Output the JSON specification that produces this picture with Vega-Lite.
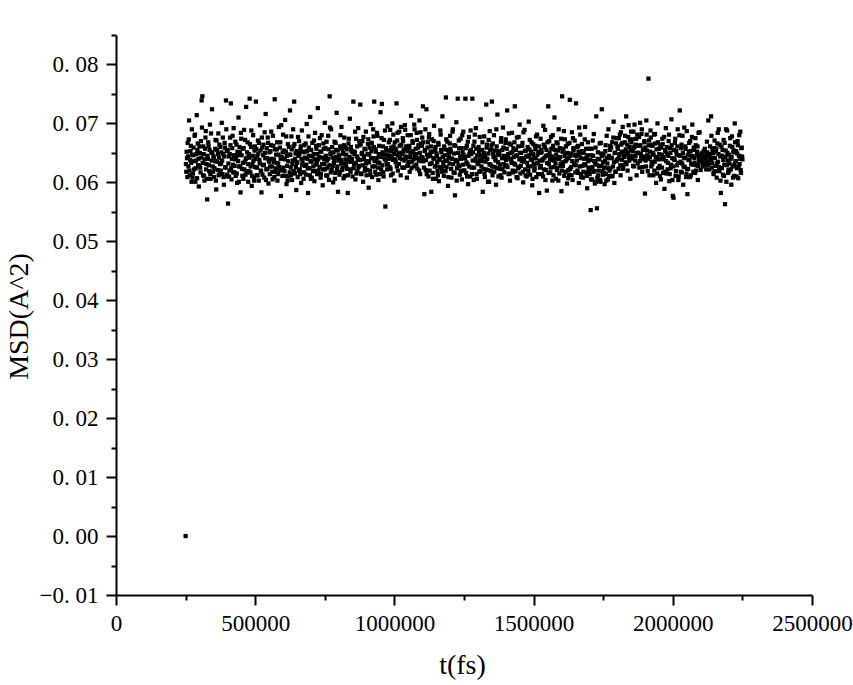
{
"$schema": "https://vega.github.io/schema/vega-lite/v6.json",
"width": 696, "height": 560,
"autosize": {"type": "none"},
"padding": {"left": 116, "top": 35, "right": 41, "bottom": 90},
"background": "white",
"config": {"view": {"stroke": null}, "axis": {"grid": false, "domainColor": "black", "tickColor": "black", "labelColor": "black", "titleColor": "black", "labelFont": "Liberation Serif", "titleFont": "Liberation Serif", "titleFontWeight": "normal"}},
"data": {"values": [
{"t":250000,"msd":0.0000},
{"t":252500,"msd":0.0618},{"t":255000,"msd":0.0641},{"t":257500,"msd":0.0667},{"t":260000,"msd":0.0627},{"t":262500,"msd":0.0705},{"t":265000,"msd":0.0612},{"t":267500,"msd":0.0653},{"t":270000,"msd":0.0633},{"t":272500,"msd":0.0690},{"t":275000,"msd":0.0608},
{"t":277500,"msd":0.0646},{"t":280000,"msd":0.0622},{"t":282500,"msd":0.0679},{"t":285000,"msd":0.0601},{"t":287500,"msd":0.0637},{"t":290000,"msd":0.0714},{"t":292500,"msd":0.0655},{"t":295000,"msd":0.0629},{"t":297500,"msd":0.0593},{"t":300000,"msd":0.0661},
{"t":302500,"msd":0.0625},{"t":305000,"msd":0.0670},{"t":307500,"msd":0.0739},{"t":310000,"msd":0.0746},{"t":312500,"msd":0.0612},{"t":315000,"msd":0.0648},{"t":317500,"msd":0.0603},{"t":320000,"msd":0.0657},{"t":322500,"msd":0.0687},{"t":325000,"msd":0.0631},
{"t":327500,"msd":0.0571},{"t":330000,"msd":0.0640},{"t":332500,"msd":0.0662},{"t":335000,"msd":0.0619},{"t":337500,"msd":0.0698},{"t":340000,"msd":0.0606},{"t":342500,"msd":0.0651},{"t":345000,"msd":0.0724},{"t":347500,"msd":0.0627},{"t":350000,"msd":0.0644},
{"t":352500,"msd":0.0609},{"t":355000,"msd":0.0636},{"t":357500,"msd":0.0672},{"t":360000,"msd":0.0588},{"t":362500,"msd":0.0655},{"t":365000,"msd":0.0621},{"t":367500,"msd":0.0683},{"t":370000,"msd":0.0642},{"t":372500,"msd":0.0616},{"t":375000,"msd":0.0660},
{"t":377500,"msd":0.0632},{"t":380000,"msd":0.0701},{"t":382500,"msd":0.0614},{"t":385000,"msd":0.0648},{"t":387500,"msd":0.0596},{"t":390000,"msd":0.0667},{"t":392500,"msd":0.0625},{"t":395000,"msd":0.0739},{"t":397500,"msd":0.0653},{"t":400000,"msd":0.0610},
{"t":402500,"msd":0.0564},{"t":405000,"msd":0.0644},{"t":407500,"msd":0.0620},{"t":410000,"msd":0.0676},{"t":412500,"msd":0.0734},{"t":415000,"msd":0.0605},{"t":417500,"msd":0.0658},{"t":420000,"msd":0.0630},{"t":422500,"msd":0.0692},{"t":425000,"msd":0.0617},
{"t":427500,"msd":0.0639},{"t":430000,"msd":0.0611},{"t":432500,"msd":0.0664},{"t":435000,"msd":0.0599},{"t":437500,"msd":0.0646},{"t":440000,"msd":0.0710},{"t":442500,"msd":0.0627},{"t":445000,"msd":0.0651},{"t":447500,"msd":0.0583},{"t":450000,"msd":0.0674},
{"t":452500,"msd":0.0623},{"t":455000,"msd":0.0657},{"t":457500,"msd":0.0606},{"t":460000,"msd":0.0689},{"t":462500,"msd":0.0635},{"t":465000,"msd":0.0613},{"t":467500,"msd":0.0728},{"t":470000,"msd":0.0642},{"t":472500,"msd":0.0668},{"t":475000,"msd":0.0601},
{"t":477500,"msd":0.0648},{"t":480000,"msd":0.0742},{"t":482500,"msd":0.0617},{"t":485000,"msd":0.0660},{"t":487500,"msd":0.0594},{"t":490000,"msd":0.0631},{"t":492500,"msd":0.0680},{"t":495000,"msd":0.0609},{"t":497500,"msd":0.0654},{"t":500000,"msd":0.0626},
{"t":502500,"msd":0.0737},{"t":505000,"msd":0.0612},{"t":507500,"msd":0.0645},{"t":510000,"msd":0.0671},{"t":512500,"msd":0.0603},{"t":515000,"msd":0.0638},{"t":517500,"msd":0.0697},{"t":520000,"msd":0.0620},{"t":522500,"msd":0.0583},{"t":525000,"msd":0.0659},
{"t":527500,"msd":0.0629},{"t":530000,"msd":0.0664},{"t":532500,"msd":0.0608},{"t":535000,"msd":0.0650},{"t":537500,"msd":0.0716},{"t":540000,"msd":0.0622},{"t":542500,"msd":0.0641},{"t":545000,"msd":0.0676},{"t":547500,"msd":0.0598},{"t":550000,"msd":0.0635},
{"t":552500,"msd":0.0614},{"t":555000,"msd":0.0653},{"t":557500,"msd":0.0686},{"t":560000,"msd":0.0627},{"t":562500,"msd":0.0605},{"t":565000,"msd":0.0662},{"t":567500,"msd":0.0639},{"t":570000,"msd":0.0741},{"t":572500,"msd":0.0618},{"t":575000,"msd":0.0647},
{"t":577500,"msd":0.0656},{"t":580000,"msd":0.0603},{"t":582500,"msd":0.0632},{"t":585000,"msd":0.0694},{"t":587500,"msd":0.0620},{"t":590000,"msd":0.0668},{"t":592500,"msd":0.0577},{"t":595000,"msd":0.0643},{"t":597500,"msd":0.0611},{"t":600000,"msd":0.0681},
{"t":602500,"msd":0.0640},{"t":605000,"msd":0.0619},{"t":607500,"msd":0.0706},{"t":610000,"msd":0.0652},{"t":612500,"msd":0.0597},{"t":615000,"msd":0.0628},{"t":617500,"msd":0.0665},{"t":620000,"msd":0.0610},{"t":622500,"msd":0.0647},{"t":625000,"msd":0.0722},
{"t":627500,"msd":0.0625},{"t":630000,"msd":0.0678},{"t":632500,"msd":0.0604},{"t":635000,"msd":0.0637},{"t":637500,"msd":0.0661},{"t":640000,"msd":0.0737},{"t":642500,"msd":0.0615},{"t":645000,"msd":0.0649},{"t":647500,"msd":0.0587},{"t":650000,"msd":0.0633},
{"t":652500,"msd":0.0609},{"t":655000,"msd":0.0645},{"t":657500,"msd":0.0670},{"t":660000,"msd":0.0622},{"t":662500,"msd":0.0655},{"t":665000,"msd":0.0599},{"t":667500,"msd":0.0688},{"t":670000,"msd":0.0636},{"t":672500,"msd":0.0617},{"t":675000,"msd":0.0663},
{"t":677500,"msd":0.0651},{"t":680000,"msd":0.0628},{"t":682500,"msd":0.0613},{"t":685000,"msd":0.0699},{"t":687500,"msd":0.0640},{"t":690000,"msd":0.0582},{"t":692500,"msd":0.0659},{"t":695000,"msd":0.0624},{"t":697500,"msd":0.0711},{"t":700000,"msd":0.0606},
{"t":702500,"msd":0.0635},{"t":705000,"msd":0.0667},{"t":707500,"msd":0.0619},{"t":710000,"msd":0.0648},{"t":712500,"msd":0.0602},{"t":715000,"msd":0.0684},{"t":717500,"msd":0.0630},{"t":720000,"msd":0.0657},{"t":722500,"msd":0.0614},{"t":725000,"msd":0.0726},
{"t":727500,"msd":0.0620},{"t":730000,"msd":0.0643},{"t":732500,"msd":0.0675},{"t":735000,"msd":0.0608},{"t":737500,"msd":0.0652},{"t":740000,"msd":0.0631},{"t":742500,"msd":0.0595},{"t":745000,"msd":0.0666},{"t":747500,"msd":0.0639},{"t":750000,"msd":0.0701},
{"t":752500,"msd":0.0658},{"t":755000,"msd":0.0612},{"t":757500,"msd":0.0637},{"t":760000,"msd":0.0625},{"t":762500,"msd":0.0679},{"t":765000,"msd":0.0604},{"t":767500,"msd":0.0746},{"t":770000,"msd":0.0648},{"t":772500,"msd":0.0690},{"t":775000,"msd":0.0621},
{"t":777500,"msd":0.0642},{"t":780000,"msd":0.0600},{"t":782500,"msd":0.0633},{"t":785000,"msd":0.0669},{"t":787500,"msd":0.0616},{"t":790000,"msd":0.0655},{"t":792500,"msd":0.0718},{"t":795000,"msd":0.0627},{"t":797500,"msd":0.0584},{"t":800000,"msd":0.0646},
{"t":802500,"msd":0.0613},{"t":805000,"msd":0.0661},{"t":807500,"msd":0.0638},{"t":810000,"msd":0.0694},{"t":812500,"msd":0.0621},{"t":815000,"msd":0.0650},{"t":817500,"msd":0.0607},{"t":820000,"msd":0.0676},{"t":822500,"msd":0.0632},{"t":825000,"msd":0.0659},
{"t":827500,"msd":0.0647},{"t":830000,"msd":0.0623},{"t":832500,"msd":0.0582},{"t":835000,"msd":0.0666},{"t":837500,"msd":0.0635},{"t":840000,"msd":0.0708},{"t":842500,"msd":0.0618},{"t":845000,"msd":0.0654},{"t":847500,"msd":0.0640},{"t":850000,"msd":0.0610},
{"t":852500,"msd":0.0737},{"t":855000,"msd":0.0631},{"t":857500,"msd":0.0652},{"t":860000,"msd":0.0605},{"t":862500,"msd":0.0674},{"t":865000,"msd":0.0644},{"t":867500,"msd":0.0619},{"t":870000,"msd":0.0692},{"t":872500,"msd":0.0628},{"t":875000,"msd":0.0663},
{"t":877500,"msd":0.0732},{"t":880000,"msd":0.0615},{"t":882500,"msd":0.0648},{"t":885000,"msd":0.0670},{"t":887500,"msd":0.0601},{"t":890000,"msd":0.0639},{"t":892500,"msd":0.0657},{"t":895000,"msd":0.0624},{"t":897500,"msd":0.0686},{"t":900000,"msd":0.0612},
{"t":902500,"msd":0.0636},{"t":905000,"msd":0.0665},{"t":907500,"msd":0.0591},{"t":910000,"msd":0.0647},{"t":912500,"msd":0.0620},{"t":915000,"msd":0.0699},{"t":917500,"msd":0.0653},{"t":920000,"msd":0.0609},{"t":922500,"msd":0.0641},{"t":925000,"msd":0.0678},
{"t":927500,"msd":0.0737},{"t":930000,"msd":0.0627},{"t":932500,"msd":0.0656},{"t":935000,"msd":0.0613},{"t":937500,"msd":0.0684},{"t":940000,"msd":0.0634},{"t":942500,"msd":0.0604},{"t":945000,"msd":0.0662},{"t":947500,"msd":0.0645},{"t":950000,"msd":0.0719},
{"t":952500,"msd":0.0622},{"t":955000,"msd":0.0733},{"t":957500,"msd":0.0651},{"t":960000,"msd":0.0617},{"t":962500,"msd":0.0672},{"t":965000,"msd":0.0640},{"t":967500,"msd":0.0559},{"t":970000,"msd":0.0658},{"t":972500,"msd":0.0630},{"t":975000,"msd":0.0695},
{"t":977500,"msd":0.0646},{"t":980000,"msd":0.0668},{"t":982500,"msd":0.0626},{"t":985000,"msd":0.0689},{"t":987500,"msd":0.0612},{"t":990000,"msd":0.0653},{"t":992500,"msd":0.0700},{"t":995000,"msd":0.0638},{"t":997500,"msd":0.0661},{"t":1000000,"msd":0.0603},
{"t":1002500,"msd":0.0657},{"t":1005000,"msd":0.0634},{"t":1007500,"msd":0.0734},{"t":1010000,"msd":0.0671},{"t":1012500,"msd":0.0620},{"t":1015000,"msd":0.0648},{"t":1017500,"msd":0.0686},{"t":1020000,"msd":0.0641},{"t":1022500,"msd":0.0612},{"t":1025000,"msd":0.0664},
{"t":1027500,"msd":0.0639},{"t":1030000,"msd":0.0675},{"t":1032500,"msd":0.0652},{"t":1035000,"msd":0.0625},{"t":1037500,"msd":0.0697},{"t":1040000,"msd":0.0644},{"t":1042500,"msd":0.0661},{"t":1045000,"msd":0.0608},{"t":1047500,"msd":0.0680},{"t":1050000,"msd":0.0630},
{"t":1052500,"msd":0.0662},{"t":1055000,"msd":0.0618},{"t":1057500,"msd":0.0646},{"t":1060000,"msd":0.0713},{"t":1062500,"msd":0.0635},{"t":1065000,"msd":0.0670},{"t":1067500,"msd":0.0653},{"t":1070000,"msd":0.0627},{"t":1072500,"msd":0.0690},{"t":1075000,"msd":0.0642},
{"t":1077500,"msd":0.0648},{"t":1080000,"msd":0.0684},{"t":1082500,"msd":0.0623},{"t":1085000,"msd":0.0659},{"t":1087500,"msd":0.0637},{"t":1090000,"msd":0.0705},{"t":1092500,"msd":0.0614},{"t":1095000,"msd":0.0666},{"t":1097500,"msd":0.0643},{"t":1100000,"msd":0.0676},
{"t":1102500,"msd":0.0729},{"t":1105000,"msd":0.0636},{"t":1107500,"msd":0.0580},{"t":1110000,"msd":0.0655},{"t":1112500,"msd":0.0621},{"t":1115000,"msd":0.0724},{"t":1117500,"msd":0.0647},{"t":1120000,"msd":0.0668},{"t":1122500,"msd":0.0610},{"t":1125000,"msd":0.0682},
{"t":1127500,"msd":0.0631},{"t":1130000,"msd":0.0652},{"t":1132500,"msd":0.0584},{"t":1135000,"msd":0.0673},{"t":1137500,"msd":0.0616},{"t":1140000,"msd":0.0641},{"t":1142500,"msd":0.0696},{"t":1145000,"msd":0.0627},{"t":1147500,"msd":0.0660},{"t":1150000,"msd":0.0606},
{"t":1152500,"msd":0.0645},{"t":1155000,"msd":0.0619},{"t":1157500,"msd":0.0667},{"t":1160000,"msd":0.0602},{"t":1162500,"msd":0.0638},{"t":1165000,"msd":0.0688},{"t":1167500,"msd":0.0655},{"t":1170000,"msd":0.0623},{"t":1172500,"msd":0.0712},{"t":1175000,"msd":0.0634},
{"t":1177500,"msd":0.0611},{"t":1180000,"msd":0.0656},{"t":1182500,"msd":0.0637},{"t":1185000,"msd":0.0744},{"t":1187500,"msd":0.0626},{"t":1190000,"msd":0.0669},{"t":1192500,"msd":0.0594},{"t":1195000,"msd":0.0648},{"t":1197500,"msd":0.0632},{"t":1200000,"msd":0.0679},
{"t":1202500,"msd":0.0652},{"t":1205000,"msd":0.0608},{"t":1207500,"msd":0.0640},{"t":1210000,"msd":0.0690},{"t":1212500,"msd":0.0617},{"t":1215000,"msd":0.0663},{"t":1217500,"msd":0.0578},{"t":1220000,"msd":0.0636},{"t":1222500,"msd":0.0702},{"t":1225000,"msd":0.0624},
{"t":1227500,"msd":0.0742},{"t":1230000,"msd":0.0629},{"t":1232500,"msd":0.0658},{"t":1235000,"msd":0.0613},{"t":1237500,"msd":0.0674},{"t":1240000,"msd":0.0640},{"t":1242500,"msd":0.0605},{"t":1245000,"msd":0.0651},{"t":1247500,"msd":0.0686},{"t":1250000,"msd":0.0620},
{"t":1252500,"msd":0.0643},{"t":1255000,"msd":0.0742},{"t":1257500,"msd":0.0616},{"t":1260000,"msd":0.0662},{"t":1262500,"msd":0.0631},{"t":1265000,"msd":0.0597},{"t":1267500,"msd":0.0677},{"t":1270000,"msd":0.0648},{"t":1272500,"msd":0.0610},{"t":1275000,"msd":0.0655},
{"t":1277500,"msd":0.0625},{"t":1280000,"msd":0.0742},{"t":1282500,"msd":0.0651},{"t":1285000,"msd":0.0604},{"t":1287500,"msd":0.0669},{"t":1290000,"msd":0.0637},{"t":1292500,"msd":0.0692},{"t":1295000,"msd":0.0614},{"t":1297500,"msd":0.0646},{"t":1300000,"msd":0.0633},
{"t":1302500,"msd":0.0660},{"t":1305000,"msd":0.0618},{"t":1307500,"msd":0.0639},{"t":1310000,"msd":0.0707},{"t":1312500,"msd":0.0627},{"t":1315000,"msd":0.0655},{"t":1317500,"msd":0.0584},{"t":1320000,"msd":0.0642},{"t":1322500,"msd":0.0678},{"t":1325000,"msd":0.0609},
{"t":1327500,"msd":0.0635},{"t":1330000,"msd":0.0732},{"t":1332500,"msd":0.0664},{"t":1335000,"msd":0.0621},{"t":1337500,"msd":0.0649},{"t":1340000,"msd":0.0601},{"t":1342500,"msd":0.0687},{"t":1345000,"msd":0.0630},{"t":1347500,"msd":0.0656},{"t":1350000,"msd":0.0737},
{"t":1352500,"msd":0.0612},{"t":1355000,"msd":0.0648},{"t":1357500,"msd":0.0680},{"t":1360000,"msd":0.0626},{"t":1362500,"msd":0.0640},{"t":1365000,"msd":0.0596},{"t":1367500,"msd":0.0661},{"t":1370000,"msd":0.0715},{"t":1372500,"msd":0.0634},{"t":1375000,"msd":0.0653},
{"t":1377500,"msd":0.0647},{"t":1380000,"msd":0.0623},{"t":1382500,"msd":0.0669},{"t":1385000,"msd":0.0608},{"t":1387500,"msd":0.0655},{"t":1390000,"msd":0.0693},{"t":1392500,"msd":0.0631},{"t":1395000,"msd":0.0617},{"t":1397500,"msd":0.0641},{"t":1400000,"msd":0.0673},
{"t":1402500,"msd":0.0629},{"t":1405000,"msd":0.0722},{"t":1407500,"msd":0.0644},{"t":1410000,"msd":0.0614},{"t":1412500,"msd":0.0666},{"t":1415000,"msd":0.0603},{"t":1417500,"msd":0.0650},{"t":1420000,"msd":0.0637},{"t":1422500,"msd":0.0684},{"t":1425000,"msd":0.0620},
{"t":1427500,"msd":0.0658},{"t":1430000,"msd":0.0632},{"t":1432500,"msd":0.0729},{"t":1435000,"msd":0.0619},{"t":1437500,"msd":0.0645},{"t":1440000,"msd":0.0676},{"t":1442500,"msd":0.0607},{"t":1445000,"msd":0.0661},{"t":1447500,"msd":0.0626},{"t":1450000,"msd":0.0698},
{"t":1452500,"msd":0.0615},{"t":1455000,"msd":0.0650},{"t":1457500,"msd":0.0636},{"t":1460000,"msd":0.0667},{"t":1462500,"msd":0.0600},{"t":1465000,"msd":0.0641},{"t":1467500,"msd":0.0689},{"t":1470000,"msd":0.0622},{"t":1472500,"msd":0.0654},{"t":1475000,"msd":0.0610},
{"t":1477500,"msd":0.0644},{"t":1480000,"msd":0.0627},{"t":1482500,"msd":0.0703},{"t":1485000,"msd":0.0656},{"t":1487500,"msd":0.0613},{"t":1490000,"msd":0.0639},{"t":1492500,"msd":0.0668},{"t":1495000,"msd":0.0595},{"t":1497500,"msd":0.0648},{"t":1500000,"msd":0.0631},
{"t":1502500,"msd":0.0620},{"t":1505000,"msd":0.0662},{"t":1507500,"msd":0.0641},{"t":1510000,"msd":0.0609},{"t":1512500,"msd":0.0681},{"t":1515000,"msd":0.0633},{"t":1517500,"msd":0.0652},{"t":1520000,"msd":0.0582},{"t":1522500,"msd":0.0625},{"t":1525000,"msd":0.0674},
{"t":1527500,"msd":0.0655},{"t":1530000,"msd":0.0614},{"t":1532500,"msd":0.0639},{"t":1535000,"msd":0.0696},{"t":1537500,"msd":0.0622},{"t":1540000,"msd":0.0660},{"t":1542500,"msd":0.0604},{"t":1545000,"msd":0.0645},{"t":1547500,"msd":0.0586},{"t":1550000,"msd":0.0668},
{"t":1552500,"msd":0.0729},{"t":1555000,"msd":0.0631},{"t":1557500,"msd":0.0650},{"t":1560000,"msd":0.0617},{"t":1562500,"msd":0.0677},{"t":1565000,"msd":0.0638},{"t":1567500,"msd":0.0603},{"t":1570000,"msd":0.0662},{"t":1572500,"msd":0.0626},{"t":1575000,"msd":0.0710},
{"t":1577500,"msd":0.0640},{"t":1580000,"msd":0.0606},{"t":1582500,"msd":0.0668},{"t":1585000,"msd":0.0624},{"t":1587500,"msd":0.0654},{"t":1590000,"msd":0.0690},{"t":1592500,"msd":0.0615},{"t":1595000,"msd":0.0643},{"t":1597500,"msd":0.0632},{"t":1600000,"msd":0.0585},
{"t":1602500,"msd":0.0746},{"t":1605000,"msd":0.0628},{"t":1607500,"msd":0.0657},{"t":1610000,"msd":0.0611},{"t":1612500,"msd":0.0673},{"t":1615000,"msd":0.0636},{"t":1617500,"msd":0.0649},{"t":1620000,"msd":0.0598},{"t":1622500,"msd":0.0665},{"t":1625000,"msd":0.0621},
{"t":1627500,"msd":0.0613},{"t":1630000,"msd":0.0740},{"t":1632500,"msd":0.0645},{"t":1635000,"msd":0.0626},{"t":1637500,"msd":0.0685},{"t":1640000,"msd":0.0604},{"t":1642500,"msd":0.0658},{"t":1645000,"msd":0.0632},{"t":1647500,"msd":0.0671},{"t":1650000,"msd":0.0617},
{"t":1652500,"msd":0.0734},{"t":1655000,"msd":0.0637},{"t":1657500,"msd":0.0620},{"t":1660000,"msd":0.0662},{"t":1662500,"msd":0.0599},{"t":1665000,"msd":0.0648},{"t":1667500,"msd":0.0681},{"t":1670000,"msd":0.0614},{"t":1672500,"msd":0.0653},{"t":1675000,"msd":0.0628},
{"t":1677500,"msd":0.0608},{"t":1680000,"msd":0.0650},{"t":1682500,"msd":0.0631},{"t":1685000,"msd":0.0694},{"t":1687500,"msd":0.0617},{"t":1690000,"msd":0.0642},{"t":1692500,"msd":0.0590},{"t":1695000,"msd":0.0668},{"t":1697500,"msd":0.0625},{"t":1700000,"msd":0.0657},
{"t":1702500,"msd":0.0622},{"t":1705000,"msd":0.0553},{"t":1707500,"msd":0.0646},{"t":1710000,"msd":0.0605},{"t":1712500,"msd":0.0671},{"t":1715000,"msd":0.0618},{"t":1717500,"msd":0.0636},{"t":1720000,"msd":0.0598},{"t":1722500,"msd":0.0659},{"t":1725000,"msd":0.0712},
{"t":1727500,"msd":0.0556},{"t":1730000,"msd":0.0640},{"t":1732500,"msd":0.0612},{"t":1735000,"msd":0.0628},{"t":1737500,"msd":0.0666},{"t":1740000,"msd":0.0601},{"t":1742500,"msd":0.0649},{"t":1745000,"msd":0.0724},{"t":1747500,"msd":0.0619},{"t":1750000,"msd":0.0634},
{"t":1752500,"msd":0.0625},{"t":1755000,"msd":0.0597},{"t":1757500,"msd":0.0653},{"t":1760000,"msd":0.0614},{"t":1762500,"msd":0.0679},{"t":1765000,"msd":0.0632},{"t":1767500,"msd":0.0605},{"t":1770000,"msd":0.0645},{"t":1772500,"msd":0.0620},{"t":1775000,"msd":0.0662},
{"t":1777500,"msd":0.0641},{"t":1780000,"msd":0.0610},{"t":1782500,"msd":0.0668},{"t":1785000,"msd":0.0627},{"t":1787500,"msd":0.0703},{"t":1790000,"msd":0.0599},{"t":1792500,"msd":0.0650},{"t":1795000,"msd":0.0618},{"t":1797500,"msd":0.0636},{"t":1800000,"msd":0.0675},
{"t":1802500,"msd":0.0657},{"t":1805000,"msd":0.0623},{"t":1807500,"msd":0.0646},{"t":1810000,"msd":0.0681},{"t":1812500,"msd":0.0612},{"t":1815000,"msd":0.0664},{"t":1817500,"msd":0.0638},{"t":1820000,"msd":0.0694},{"t":1822500,"msd":0.0629},{"t":1825000,"msd":0.0652},
{"t":1827500,"msd":0.0668},{"t":1830000,"msd":0.0634},{"t":1832500,"msd":0.0712},{"t":1835000,"msd":0.0651},{"t":1837500,"msd":0.0620},{"t":1840000,"msd":0.0677},{"t":1842500,"msd":0.0643},{"t":1845000,"msd":0.0660},{"t":1847500,"msd":0.0606},{"t":1850000,"msd":0.0686},
{"t":1852500,"msd":0.0645},{"t":1855000,"msd":0.0673},{"t":1857500,"msd":0.0628},{"t":1860000,"msd":0.0659},{"t":1862500,"msd":0.0698},{"t":1865000,"msd":0.0637},{"t":1867500,"msd":0.0664},{"t":1870000,"msd":0.0612},{"t":1872500,"msd":0.0681},{"t":1875000,"msd":0.0650},
{"t":1877500,"msd":0.0662},{"t":1880000,"msd":0.0625},{"t":1882500,"msd":0.0701},{"t":1885000,"msd":0.0648},{"t":1887500,"msd":0.0682},{"t":1890000,"msd":0.0618},{"t":1892500,"msd":0.0656},{"t":1895000,"msd":0.0639},{"t":1897500,"msd":0.0670},{"t":1900000,"msd":0.0581},
{"t":1902500,"msd":0.0637},{"t":1905000,"msd":0.0705},{"t":1907500,"msd":0.0654},{"t":1910000,"msd":0.0619},{"t":1912500,"msd":0.0776},{"t":1915000,"msd":0.0671},{"t":1917500,"msd":0.0643},{"t":1920000,"msd":0.0688},{"t":1922500,"msd":0.0627},{"t":1925000,"msd":0.0662},
{"t":1927500,"msd":0.0650},{"t":1930000,"msd":0.0612},{"t":1932500,"msd":0.0681},{"t":1935000,"msd":0.0635},{"t":1937500,"msd":0.0666},{"t":1940000,"msd":0.0599},{"t":1942500,"msd":0.0643},{"t":1945000,"msd":0.0700},{"t":1947500,"msd":0.0624},{"t":1950000,"msd":0.0657},
{"t":1952500,"msd":0.0628},{"t":1955000,"msd":0.0663},{"t":1957500,"msd":0.0605},{"t":1960000,"msd":0.0647},{"t":1962500,"msd":0.0674},{"t":1965000,"msd":0.0616},{"t":1967500,"msd":0.0639},{"t":1970000,"msd":0.0589},{"t":1972500,"msd":0.0655},{"t":1975000,"msd":0.0692},
{"t":1977500,"msd":0.0615},{"t":1980000,"msd":0.0648},{"t":1982500,"msd":0.0633},{"t":1985000,"msd":0.0670},{"t":1987500,"msd":0.0602},{"t":1990000,"msd":0.0658},{"t":1992500,"msd":0.0624},{"t":1995000,"msd":0.0707},{"t":1997500,"msd":0.0641},{"t":2000000,"msd":0.0577},
{"t":2002500,"msd":0.0574},{"t":2005000,"msd":0.0640},{"t":2007500,"msd":0.0667},{"t":2010000,"msd":0.0611},{"t":2012500,"msd":0.0653},{"t":2015000,"msd":0.0629},{"t":2017500,"msd":0.0690},{"t":2020000,"msd":0.0604},{"t":2022500,"msd":0.0646},{"t":2025000,"msd":0.0722},
{"t":2027500,"msd":0.0635},{"t":2030000,"msd":0.0658},{"t":2032500,"msd":0.0617},{"t":2035000,"msd":0.0679},{"t":2037500,"msd":0.0596},{"t":2040000,"msd":0.0642},{"t":2042500,"msd":0.0626},{"t":2045000,"msd":0.0661},{"t":2047500,"msd":0.0609},{"t":2050000,"msd":0.0687},
{"t":2052500,"msd":0.0580},{"t":2055000,"msd":0.0623},{"t":2057500,"msd":0.0652},{"t":2060000,"msd":0.0638},{"t":2062500,"msd":0.0670},{"t":2065000,"msd":0.0612},{"t":2067500,"msd":0.0645},{"t":2070000,"msd":0.0698},{"t":2072500,"msd":0.0630},{"t":2075000,"msd":0.0659},
{"t":2077500,"msd":0.0641},{"t":2080000,"msd":0.0616},{"t":2082500,"msd":0.0663},{"t":2085000,"msd":0.0629},{"t":2087500,"msd":0.0652},{"t":2090000,"msd":0.0604},{"t":2092500,"msd":0.0684},{"t":2095000,"msd":0.0635},{"t":2097500,"msd":0.0647},{"t":2100000,"msd":0.0621},
{"t":2102500,"msd":0.0638},{"t":2105000,"msd":0.0650},{"t":2107500,"msd":0.0627},{"t":2110000,"msd":0.0644},{"t":2112500,"msd":0.0632},{"t":2115000,"msd":0.0657},{"t":2117500,"msd":0.0641},{"t":2120000,"msd":0.0622},{"t":2122500,"msd":0.0669},{"t":2125000,"msd":0.0646},
{"t":2127500,"msd":0.0705},{"t":2130000,"msd":0.0633},{"t":2132500,"msd":0.0648},{"t":2135000,"msd":0.0639},{"t":2137500,"msd":0.0712},{"t":2140000,"msd":0.0625},{"t":2142500,"msd":0.0656},{"t":2145000,"msd":0.0642},{"t":2147500,"msd":0.0617},{"t":2150000,"msd":0.0671},
{"t":2152500,"msd":0.0628},{"t":2155000,"msd":0.0651},{"t":2157500,"msd":0.0608},{"t":2160000,"msd":0.0666},{"t":2162500,"msd":0.0635},{"t":2165000,"msd":0.0690},{"t":2167500,"msd":0.0619},{"t":2170000,"msd":0.0644},{"t":2172500,"msd":0.0582},{"t":2175000,"msd":0.0660},
{"t":2177500,"msd":0.0645},{"t":2180000,"msd":0.0613},{"t":2182500,"msd":0.0672},{"t":2185000,"msd":0.0630},{"t":2187500,"msd":0.0563},{"t":2190000,"msd":0.0654},{"t":2192500,"msd":0.0601},{"t":2195000,"msd":0.0688},{"t":2197500,"msd":0.0637},{"t":2200000,"msd":0.0621},
{"t":2202500,"msd":0.0619},{"t":2205000,"msd":0.0662},{"t":2207500,"msd":0.0640},{"t":2210000,"msd":0.0596},{"t":2212500,"msd":0.0678},{"t":2215000,"msd":0.0627},{"t":2217500,"msd":0.0651},{"t":2220000,"msd":0.0611},{"t":2222500,"msd":0.0700},{"t":2225000,"msd":0.0636},
{"t":2227500,"msd":0.0653},{"t":2230000,"msd":0.0624},{"t":2232500,"msd":0.0670},{"t":2235000,"msd":0.0607},{"t":2237500,"msd":0.0645},{"t":2240000,"msd":0.0631},{"t":2242500,"msd":0.0686},{"t":2245000,"msd":0.0616},{"t":2247500,"msd":0.0659},{"t":2250000,"msd":0.0639},
{"t":251250,"msd":0.0631},{"t":253750,"msd":0.0652},{"t":256250,"msd":0.0609},{"t":258750,"msd":0.0644},{"t":261250,"msd":0.0673},{"t":263750,"msd":0.0620},{"t":266250,"msd":0.0638},{"t":268750,"msd":0.0662},{"t":271250,"msd":0.0601},{"t":273750,"msd":0.0647},
{"t":276250,"msd":0.0615},{"t":278750,"msd":0.0659},{"t":281250,"msd":0.0636},{"t":283750,"msd":0.0681},{"t":286250,"msd":0.0624},{"t":288750,"msd":0.0648},{"t":291250,"msd":0.0607},{"t":293750,"msd":0.0666},{"t":296250,"msd":0.0640},{"t":298750,"msd":0.0628},
{"t":301250,"msd":0.0650},{"t":303750,"msd":0.0617},{"t":306250,"msd":0.0642},{"t":308750,"msd":0.0693},{"t":311250,"msd":0.0633},{"t":313750,"msd":0.0661},{"t":316250,"msd":0.0611},{"t":318750,"msd":0.0639},{"t":321250,"msd":0.0676},{"t":323750,"msd":0.0622},
{"t":326250,"msd":0.0606},{"t":328750,"msd":0.0645},{"t":331250,"msd":0.0668},{"t":333750,"msd":0.0629},{"t":336250,"msd":0.0655},{"t":338750,"msd":0.0614},{"t":341250,"msd":0.0683},{"t":343750,"msd":0.0637},{"t":346250,"msd":0.0650},{"t":348750,"msd":0.0618},
{"t":351250,"msd":0.0642},{"t":353750,"msd":0.0624},{"t":356250,"msd":0.0657},{"t":358750,"msd":0.0603},{"t":361250,"msd":0.0671},{"t":363750,"msd":0.0635},{"t":366250,"msd":0.0648},{"t":368750,"msd":0.0612},{"t":371250,"msd":0.0664},{"t":373750,"msd":0.0631},
{"t":376250,"msd":0.0620},{"t":378750,"msd":0.0651},{"t":381250,"msd":0.0637},{"t":383750,"msd":0.0676},{"t":386250,"msd":0.0609},{"t":388750,"msd":0.0644},{"t":391250,"msd":0.0659},{"t":393750,"msd":0.0626},{"t":396250,"msd":0.0690},{"t":398750,"msd":0.0613},
{"t":401250,"msd":0.0655},{"t":403750,"msd":0.0632},{"t":406250,"msd":0.0610},{"t":408750,"msd":0.0648},{"t":411250,"msd":0.0663},{"t":413750,"msd":0.0624},{"t":416250,"msd":0.0640},{"t":418750,"msd":0.0679},{"t":421250,"msd":0.0617},{"t":423750,"msd":0.0646},
{"t":426250,"msd":0.0628},{"t":428750,"msd":0.0669},{"t":431250,"msd":0.0643},{"t":433750,"msd":0.0615},{"t":436250,"msd":0.0652},{"t":438750,"msd":0.0636},{"t":441250,"msd":0.0601},{"t":443750,"msd":0.0660},{"t":446250,"msd":0.0627},{"t":448750,"msd":0.0684},
{"t":451250,"msd":0.0646},{"t":453750,"msd":0.0611},{"t":456250,"msd":0.0633},{"t":458750,"msd":0.0658},{"t":461250,"msd":0.0622},{"t":463750,"msd":0.0672},{"t":466250,"msd":0.0640},{"t":468750,"msd":0.0616},{"t":471250,"msd":0.0651},{"t":473750,"msd":0.0631},
{"t":476250,"msd":0.0619},{"t":478750,"msd":0.0642},{"t":481250,"msd":0.0665},{"t":483750,"msd":0.0627},{"t":486250,"msd":0.0688},{"t":488750,"msd":0.0611},{"t":491250,"msd":0.0645},{"t":493750,"msd":0.0637},{"t":496250,"msd":0.0603},{"t":498750,"msd":0.0661},
{"t":501250,"msd":0.0640},{"t":503750,"msd":0.0657},{"t":506250,"msd":0.0625},{"t":508750,"msd":0.0612},{"t":511250,"msd":0.0649},{"t":513750,"msd":0.0667},{"t":516250,"msd":0.0632},{"t":518750,"msd":0.0654},{"t":521250,"msd":0.0619},{"t":523750,"msd":0.0676},
{"t":526250,"msd":0.0613},{"t":528750,"msd":0.0646},{"t":531250,"msd":0.0630},{"t":533750,"msd":0.0685},{"t":536250,"msd":0.0641},{"t":538750,"msd":0.0604},{"t":541250,"msd":0.0658},{"t":543750,"msd":0.0623},{"t":546250,"msd":0.0667},{"t":548750,"msd":0.0638},
{"t":551250,"msd":0.0651},{"t":553750,"msd":0.0627},{"t":556250,"msd":0.0663},{"t":558750,"msd":0.0640},{"t":561250,"msd":0.0618},{"t":563750,"msd":0.0679},{"t":566250,"msd":0.0635},{"t":568750,"msd":0.0609},{"t":571250,"msd":0.0656},{"t":573750,"msd":0.0624},
{"t":576250,"msd":0.0633},{"t":578750,"msd":0.0668},{"t":581250,"msd":0.0614},{"t":583750,"msd":0.0647},{"t":586250,"msd":0.0626},{"t":588750,"msd":0.0659},{"t":591250,"msd":0.0640},{"t":593750,"msd":0.0697},{"t":596250,"msd":0.0621},{"t":598750,"msd":0.0651},
{"t":601250,"msd":0.0625},{"t":603750,"msd":0.0654},{"t":606250,"msd":0.0639},{"t":608750,"msd":0.0611},{"t":611250,"msd":0.0678},{"t":613750,"msd":0.0645},{"t":616250,"msd":0.0603},{"t":618750,"msd":0.0636},{"t":621250,"msd":0.0660},{"t":623750,"msd":0.0617},
{"t":626250,"msd":0.0647},{"t":628750,"msd":0.0612},{"t":631250,"msd":0.0656},{"t":633750,"msd":0.0631},{"t":636250,"msd":0.0690},{"t":638750,"msd":0.0619},{"t":641250,"msd":0.0665},{"t":643750,"msd":0.0640},{"t":646250,"msd":0.0626},{"t":648750,"msd":0.0653},
{"t":651250,"msd":0.0634},{"t":653750,"msd":0.0677},{"t":656250,"msd":0.0620},{"t":658750,"msd":0.0648},{"t":661250,"msd":0.0614},{"t":663750,"msd":0.0661},{"t":666250,"msd":0.0640},{"t":668750,"msd":0.0629},{"t":671250,"msd":0.0652},{"t":673750,"msd":0.0606},
{"t":676250,"msd":0.0617},{"t":678750,"msd":0.0642},{"t":681250,"msd":0.0666},{"t":683750,"msd":0.0630},{"t":686250,"msd":0.0653},{"t":688750,"msd":0.0624},{"t":691250,"msd":0.0678},{"t":693750,"msd":0.0645},{"t":696250,"msd":0.0612},{"t":698750,"msd":0.0636},
{"t":701250,"msd":0.0655},{"t":703750,"msd":0.0608},{"t":706250,"msd":0.0644},{"t":708750,"msd":0.0627},{"t":711250,"msd":0.0671},{"t":713750,"msd":0.0639},{"t":716250,"msd":0.0619},{"t":718750,"msd":0.0662},{"t":721250,"msd":0.0633},{"t":723750,"msd":0.0648},
{"t":726250,"msd":0.0639},{"t":728750,"msd":0.0663},{"t":731250,"msd":0.0626},{"t":733750,"msd":0.0652},{"t":736250,"msd":0.0614},{"t":738750,"msd":0.0680},{"t":741250,"msd":0.0642},{"t":743750,"msd":0.0622},{"t":746250,"msd":0.0657},{"t":748750,"msd":0.0631},
{"t":751250,"msd":0.0622},{"t":753750,"msd":0.0645},{"t":756250,"msd":0.0669},{"t":758750,"msd":0.0611},{"t":761250,"msd":0.0640},{"t":763750,"msd":0.0656},{"t":766250,"msd":0.0629},{"t":768750,"msd":0.0693},{"t":771250,"msd":0.0617},{"t":773750,"msd":0.0650},
{"t":776250,"msd":0.0660},{"t":778750,"msd":0.0628},{"t":781250,"msd":0.0651},{"t":783750,"msd":0.0636},{"t":786250,"msd":0.0606},{"t":788750,"msd":0.0667},{"t":791250,"msd":0.0643},{"t":793750,"msd":0.0621},{"t":796250,"msd":0.0654},{"t":798750,"msd":0.0637},
{"t":801250,"msd":0.0644},{"t":803750,"msd":0.0618},{"t":806250,"msd":0.0680},{"t":808750,"msd":0.0632},{"t":811250,"msd":0.0657},{"t":813750,"msd":0.0625},{"t":816250,"msd":0.0648},{"t":818750,"msd":0.0663},{"t":821250,"msd":0.0611},{"t":823750,"msd":0.0639},
{"t":826250,"msd":0.0629},{"t":828750,"msd":0.0656},{"t":831250,"msd":0.0637},{"t":833750,"msd":0.0612},{"t":836250,"msd":0.0674},{"t":838750,"msd":0.0643},{"t":841250,"msd":0.0622},{"t":843750,"msd":0.0660},{"t":846250,"msd":0.0635},{"t":848750,"msd":0.0651},
{"t":851250,"msd":0.0652},{"t":853750,"msd":0.0624},{"t":856250,"msd":0.0648},{"t":858750,"msd":0.0686},{"t":861250,"msd":0.0633},{"t":863750,"msd":0.0615},{"t":866250,"msd":0.0661},{"t":868750,"msd":0.0640},{"t":871250,"msd":0.0626},{"t":873750,"msd":0.0670},
{"t":876250,"msd":0.0638},{"t":878750,"msd":0.0665},{"t":881250,"msd":0.0614},{"t":883750,"msd":0.0650},{"t":886250,"msd":0.0629},{"t":888750,"msd":0.0677},{"t":891250,"msd":0.0645},{"t":893750,"msd":0.0620},{"t":896250,"msd":0.0656},{"t":898750,"msd":0.0632},
{"t":901250,"msd":0.0621},{"t":903750,"msd":0.0648},{"t":906250,"msd":0.0673},{"t":908750,"msd":0.0634},{"t":911250,"msd":0.0659},{"t":913750,"msd":0.0613},{"t":916250,"msd":0.0641},{"t":918750,"msd":0.0667},{"t":921250,"msd":0.0627},{"t":923750,"msd":0.0690},
{"t":926250,"msd":0.0660},{"t":928750,"msd":0.0636},{"t":931250,"msd":0.0618},{"t":933750,"msd":0.0652},{"t":936250,"msd":0.0641},{"t":938750,"msd":0.0679},{"t":941250,"msd":0.0625},{"t":943750,"msd":0.0648},{"t":946250,"msd":0.0633},{"t":948750,"msd":0.0614},
{"t":951250,"msd":0.0643},{"t":953750,"msd":0.0675},{"t":956250,"msd":0.0629},{"t":958750,"msd":0.0661},{"t":961250,"msd":0.0610},{"t":963750,"msd":0.0647},{"t":966250,"msd":0.0688},{"t":968750,"msd":0.0637},{"t":971250,"msd":0.0654},{"t":973750,"msd":0.0622},
{"t":976250,"msd":0.0631},{"t":978750,"msd":0.0654},{"t":981250,"msd":0.0640},{"t":983750,"msd":0.0672},{"t":986250,"msd":0.0623},{"t":988750,"msd":0.0659},{"t":991250,"msd":0.0645},{"t":993750,"msd":0.0615},{"t":996250,"msd":0.0681},{"t":998750,"msd":0.0648},
{"t":1001250,"msd":0.0668},{"t":1003750,"msd":0.0639},{"t":1006250,"msd":0.0655},{"t":1008750,"msd":0.0627},{"t":1011250,"msd":0.0684},{"t":1013750,"msd":0.0646},{"t":1016250,"msd":0.0631},{"t":1018750,"msd":0.0662},{"t":1021250,"msd":0.0650},{"t":1023750,"msd":0.0694},
{"t":1026250,"msd":0.0648},{"t":1028750,"msd":0.0625},{"t":1031250,"msd":0.0670},{"t":1033750,"msd":0.0656},{"t":1036250,"msd":0.0637},{"t":1038750,"msd":0.0689},{"t":1041250,"msd":0.0642},{"t":1043750,"msd":0.0660},{"t":1046250,"msd":0.0628},{"t":1048750,"msd":0.0653},
{"t":1051250,"msd":0.0635},{"t":1053750,"msd":0.0659},{"t":1056250,"msd":0.0643},{"t":1058750,"msd":0.0680},{"t":1061250,"msd":0.0624},{"t":1063750,"msd":0.0651},{"t":1066250,"msd":0.0667},{"t":1068750,"msd":0.0639},{"t":1071250,"msd":0.0698},{"t":1073750,"msd":0.0646},
{"t":1076250,"msd":0.0657},{"t":1078750,"msd":0.0630},{"t":1081250,"msd":0.0672},{"t":1083750,"msd":0.0641},{"t":1086250,"msd":0.0663},{"t":1088750,"msd":0.0620},{"t":1091250,"msd":0.0650},{"t":1093750,"msd":0.0685},{"t":1096250,"msd":0.0636},{"t":1098750,"msd":0.0662},
{"t":1101250,"msd":0.0642},{"t":1103750,"msd":0.0668},{"t":1106250,"msd":0.0625},{"t":1108750,"msd":0.0653},{"t":1111250,"msd":0.0690},{"t":1113750,"msd":0.0638},{"t":1116250,"msd":0.0614},{"t":1118750,"msd":0.0659},{"t":1121250,"msd":0.0644},{"t":1123750,"msd":0.0676},
{"t":1126250,"msd":0.0620},{"t":1128750,"msd":0.0645},{"t":1131250,"msd":0.0661},{"t":1133750,"msd":0.0633},{"t":1136250,"msd":0.0652},{"t":1138750,"msd":0.0606},{"t":1141250,"msd":0.0670},{"t":1143750,"msd":0.0640},{"t":1146250,"msd":0.0655},{"t":1148750,"msd":0.0627},
{"t":1151250,"msd":0.0649},{"t":1153750,"msd":0.0634},{"t":1156250,"msd":0.0612},{"t":1158750,"msd":0.0664},{"t":1161250,"msd":0.0640},{"t":1163750,"msd":0.0626},{"t":1166250,"msd":0.0681},{"t":1168750,"msd":0.0651},{"t":1171250,"msd":0.0618},{"t":1173750,"msd":0.0643},
{"t":1176250,"msd":0.0628},{"t":1178750,"msd":0.0661},{"t":1181250,"msd":0.0646},{"t":1183750,"msd":0.0619},{"t":1186250,"msd":0.0673},{"t":1188750,"msd":0.0637},{"t":1191250,"msd":0.0655},{"t":1193750,"msd":0.0609},{"t":1196250,"msd":0.0642},{"t":1198750,"msd":0.0666},
{"t":1201250,"msd":0.0657},{"t":1203750,"msd":0.0623},{"t":1206250,"msd":0.0640},{"t":1208750,"msd":0.0686},{"t":1211250,"msd":0.0631},{"t":1213750,"msd":0.0649},{"t":1216250,"msd":0.0616},{"t":1218750,"msd":0.0662},{"t":1221250,"msd":0.0638},{"t":1223750,"msd":0.0603},
{"t":1226250,"msd":0.0636},{"t":1228750,"msd":0.0650},{"t":1231250,"msd":0.0671},{"t":1233750,"msd":0.0627},{"t":1236250,"msd":0.0644},{"t":1238750,"msd":0.0619},{"t":1241250,"msd":0.0658},{"t":1243750,"msd":0.0680},{"t":1246250,"msd":0.0630},{"t":1248750,"msd":0.0647},
{"t":1251250,"msd":0.0620},{"t":1253750,"msd":0.0641},{"t":1256250,"msd":0.0658},{"t":1258750,"msd":0.0634},{"t":1261250,"msd":0.0610},{"t":1263750,"msd":0.0669},{"t":1266250,"msd":0.0645},{"t":1268750,"msd":0.0627},{"t":1271250,"msd":0.0653},{"t":1273750,"msd":0.0688},
{"t":1276250,"msd":0.0648},{"t":1278750,"msd":0.0614},{"t":1281250,"msd":0.0637},{"t":1283750,"msd":0.0662},{"t":1286250,"msd":0.0625},{"t":1288750,"msd":0.0681},{"t":1291250,"msd":0.0640},{"t":1293750,"msd":0.0657},{"t":1296250,"msd":0.0606},{"t":1298750,"msd":0.0633},
{"t":1301250,"msd":0.0631},{"t":1303750,"msd":0.0653},{"t":1306250,"msd":0.0677},{"t":1308750,"msd":0.0619},{"t":1311250,"msd":0.0646},{"t":1313750,"msd":0.0636},{"t":1316250,"msd":0.0668},{"t":1318750,"msd":0.0623},{"t":1321250,"msd":0.0650},{"t":1323750,"msd":0.0615},
{"t":1326250,"msd":0.0644},{"t":1328750,"msd":0.0622},{"t":1331250,"msd":0.0659},{"t":1333750,"msd":0.0640},{"t":1336250,"msd":0.0601},{"t":1338750,"msd":0.0672},{"t":1341250,"msd":0.0631},{"t":1343750,"msd":0.0655},{"t":1346250,"msd":0.0619},{"t":1348750,"msd":0.0663},
{"t":1351250,"msd":0.0627},{"t":1353750,"msd":0.0666},{"t":1356250,"msd":0.0643},{"t":1358750,"msd":0.0618},{"t":1361250,"msd":0.0654},{"t":1363750,"msd":0.0637},{"t":1366250,"msd":0.0690},{"t":1368750,"msd":0.0624},{"t":1371250,"msd":0.0647},{"t":1373750,"msd":0.0610},
{"t":1376250,"msd":0.0653},{"t":1378750,"msd":0.0630},{"t":1381250,"msd":0.0612},{"t":1383750,"msd":0.0675},{"t":1386250,"msd":0.0641},{"t":1388750,"msd":0.0622},{"t":1391250,"msd":0.0659},{"t":1393750,"msd":0.0645},{"t":1396250,"msd":0.0628},{"t":1398750,"msd":0.0667},
{"t":1401250,"msd":0.0638},{"t":1403750,"msd":0.0657},{"t":1406250,"msd":0.0626},{"t":1408750,"msd":0.0648},{"t":1411250,"msd":0.0683},{"t":1413750,"msd":0.0615},{"t":1416250,"msd":0.0640},{"t":1418750,"msd":0.0664},{"t":1421250,"msd":0.0633},{"t":1423750,"msd":0.0651},
{"t":1426250,"msd":0.0617},{"t":1428750,"msd":0.0643},{"t":1431250,"msd":0.0668},{"t":1433750,"msd":0.0630},{"t":1436250,"msd":0.0655},{"t":1438750,"msd":0.0609},{"t":1441250,"msd":0.0646},{"t":1443750,"msd":0.0624},{"t":1446250,"msd":0.0677},{"t":1448750,"msd":0.0639},
{"t":1451250,"msd":0.0650},{"t":1453750,"msd":0.0628},{"t":1456250,"msd":0.0641},{"t":1458750,"msd":0.0662},{"t":1461250,"msd":0.0618},{"t":1463750,"msd":0.0685},{"t":1466250,"msd":0.0635},{"t":1468750,"msd":0.0653},{"t":1471250,"msd":0.0612},{"t":1473750,"msd":0.0644},
{"t":1476250,"msd":0.0633},{"t":1478750,"msd":0.0660},{"t":1481250,"msd":0.0619},{"t":1483750,"msd":0.0646},{"t":1486250,"msd":0.0672},{"t":1488750,"msd":0.0627},{"t":1491250,"msd":0.0652},{"t":1493750,"msd":0.0638},{"t":1496250,"msd":0.0606},{"t":1498750,"msd":0.0665},
{"t":1501250,"msd":0.0641},{"t":1503750,"msd":0.0624},{"t":1506250,"msd":0.0656},{"t":1508750,"msd":0.0678},{"t":1511250,"msd":0.0632},{"t":1513750,"msd":0.0647},{"t":1516250,"msd":0.0614},{"t":1518750,"msd":0.0661},{"t":1521250,"msd":0.0637},{"t":1523750,"msd":0.0650},
{"t":1526250,"msd":0.0628},{"t":1528750,"msd":0.0651},{"t":1531250,"msd":0.0637},{"t":1533750,"msd":0.0610},{"t":1536250,"msd":0.0664},{"t":1538750,"msd":0.0642},{"t":1541250,"msd":0.0689},{"t":1543750,"msd":0.0621},{"t":1546250,"msd":0.0655},{"t":1548750,"msd":0.0633},
{"t":1551250,"msd":0.0646},{"t":1553750,"msd":0.0616},{"t":1556250,"msd":0.0670},{"t":1558750,"msd":0.0639},{"t":1561250,"msd":0.0625},{"t":1563750,"msd":0.0657},{"t":1566250,"msd":0.0644},{"t":1568750,"msd":0.0680},{"t":1571250,"msd":0.0612},{"t":1573750,"msd":0.0637},
{"t":1576250,"msd":0.0655},{"t":1578750,"msd":0.0632},{"t":1581250,"msd":0.0647},{"t":1583750,"msd":0.0621},{"t":1586250,"msd":0.0666},{"t":1588750,"msd":0.0603},{"t":1591250,"msd":0.0640},{"t":1593750,"msd":0.0658},{"t":1596250,"msd":0.0628},{"t":1598750,"msd":0.0674},
{"t":1601250,"msd":0.0620},{"t":1603750,"msd":0.0652},{"t":1606250,"msd":0.0634},{"t":1608750,"msd":0.0687},{"t":1611250,"msd":0.0645},{"t":1613750,"msd":0.0618},{"t":1616250,"msd":0.0661},{"t":1618750,"msd":0.0639},{"t":1621250,"msd":0.0650},{"t":1623750,"msd":0.0607},
{"t":1626250,"msd":0.0641},{"t":1628750,"msd":0.0667},{"t":1631250,"msd":0.0623},{"t":1633750,"msd":0.0649},{"t":1636250,"msd":0.0612},{"t":1638750,"msd":0.0636},{"t":1641250,"msd":0.0675},{"t":1643750,"msd":0.0654},{"t":1646250,"msd":0.0630},{"t":1648750,"msd":0.0646},
{"t":1651250,"msd":0.0629},{"t":1653750,"msd":0.0645},{"t":1656250,"msd":0.0660},{"t":1658750,"msd":0.0616},{"t":1661250,"msd":0.0652},{"t":1663750,"msd":0.0693},{"t":1666250,"msd":0.0627},{"t":1668750,"msd":0.0641},{"t":1671250,"msd":0.0609},{"t":1673750,"msd":0.0665},
{"t":1676250,"msd":0.0652},{"t":1678750,"msd":0.0618},{"t":1681250,"msd":0.0640},{"t":1683750,"msd":0.0673},{"t":1686250,"msd":0.0629},{"t":1688750,"msd":0.0657},{"t":1691250,"msd":0.0611},{"t":1693750,"msd":0.0646},{"t":1696250,"msd":0.0636},{"t":1698750,"msd":0.0620},
{"t":1701250,"msd":0.0614},{"t":1703750,"msd":0.0638},{"t":1706250,"msd":0.0605},{"t":1708750,"msd":0.0657},{"t":1711250,"msd":0.0626},{"t":1713750,"msd":0.0645},{"t":1716250,"msd":0.0682},{"t":1718750,"msd":0.0619},{"t":1721250,"msd":0.0633},{"t":1723750,"msd":0.0601},
{"t":1726250,"msd":0.0630},{"t":1728750,"msd":0.0608},{"t":1731250,"msd":0.0651},{"t":1733750,"msd":0.0620},{"t":1736250,"msd":0.0639},{"t":1738750,"msd":0.0604},{"t":1741250,"msd":0.0667},{"t":1743750,"msd":0.0628},{"t":1746250,"msd":0.0645},{"t":1748750,"msd":0.0613},
{"t":1751250,"msd":0.0647},{"t":1753750,"msd":0.0616},{"t":1756250,"msd":0.0637},{"t":1758750,"msd":0.0663},{"t":1761250,"msd":0.0603},{"t":1763750,"msd":0.0641},{"t":1766250,"msd":0.0624},{"t":1768750,"msd":0.0690},{"t":1771250,"msd":0.0611},{"t":1773750,"msd":0.0655},
{"t":1776250,"msd":0.0624},{"t":1778750,"msd":0.0659},{"t":1781250,"msd":0.0642},{"t":1783750,"msd":0.0611},{"t":1786250,"msd":0.0676},{"t":1788750,"msd":0.0634},{"t":1791250,"msd":0.0650},{"t":1793750,"msd":0.0618},{"t":1796250,"msd":0.0666},{"t":1798750,"msd":0.0638},
{"t":1801250,"msd":0.0661},{"t":1803750,"msd":0.0640},{"t":1806250,"msd":0.0675},{"t":1808750,"msd":0.0648},{"t":1811250,"msd":0.0629},{"t":1813750,"msd":0.0685},{"t":1816250,"msd":0.0652},{"t":1818750,"msd":0.0667},{"t":1821250,"msd":0.0623},{"t":1823750,"msd":0.0645},
{"t":1826250,"msd":0.0643},{"t":1828750,"msd":0.0679},{"t":1831250,"msd":0.0656},{"t":1833750,"msd":0.0631},{"t":1836250,"msd":0.0664},{"t":1838750,"msd":0.0648},{"t":1841250,"msd":0.0697},{"t":1843750,"msd":0.0637},{"t":1846250,"msd":0.0672},{"t":1848750,"msd":0.0654},
{"t":1851250,"msd":0.0668},{"t":1853750,"msd":0.0640},{"t":1856250,"msd":0.0653},{"t":1858750,"msd":0.0686},{"t":1861250,"msd":0.0627},{"t":1863750,"msd":0.0661},{"t":1866250,"msd":0.0645},{"t":1868750,"msd":0.0674},{"t":1871250,"msd":0.0650},{"t":1873750,"msd":0.0632},
{"t":1876250,"msd":0.0650},{"t":1878750,"msd":0.0677},{"t":1881250,"msd":0.0636},{"t":1883750,"msd":0.0663},{"t":1886250,"msd":0.0641},{"t":1888750,"msd":0.0690},{"t":1891250,"msd":0.0626},{"t":1893750,"msd":0.0655},{"t":1896250,"msd":0.0644},{"t":1898750,"msd":0.0668},
{"t":1901250,"msd":0.0659},{"t":1903750,"msd":0.0627},{"t":1906250,"msd":0.0681},{"t":1908750,"msd":0.0646},{"t":1911250,"msd":0.0640},{"t":1913750,"msd":0.0663},{"t":1916250,"msd":0.0612},{"t":1918750,"msd":0.0652},{"t":1921250,"msd":0.0676},{"t":1923750,"msd":0.0635},
{"t":1926250,"msd":0.0631},{"t":1928750,"msd":0.0664},{"t":1931250,"msd":0.0647},{"t":1933750,"msd":0.0620},{"t":1936250,"msd":0.0682},{"t":1938750,"msd":0.0642},{"t":1941250,"msd":0.0656},{"t":1943750,"msd":0.0615},{"t":1946250,"msd":0.0668},{"t":1948750,"msd":0.0639},
{"t":1951250,"msd":0.0648},{"t":1953750,"msd":0.0611},{"t":1956250,"msd":0.0640},{"t":1958750,"msd":0.0659},{"t":1961250,"msd":0.0625},{"t":1963750,"msd":0.0665},{"t":1966250,"msd":0.0643},{"t":1968750,"msd":0.0677},{"t":1971250,"msd":0.0618},{"t":1973750,"msd":0.0652},
{"t":1976250,"msd":0.0636},{"t":1978750,"msd":0.0660},{"t":1981250,"msd":0.0622},{"t":1983750,"msd":0.0645},{"t":1986250,"msd":0.0681},{"t":1988750,"msd":0.0614},{"t":1991250,"msd":0.0650},{"t":1993750,"msd":0.0630},{"t":1996250,"msd":0.0663},{"t":1998750,"msd":0.0604},
{"t":2001250,"msd":0.0627},{"t":2003750,"msd":0.0655},{"t":2006250,"msd":0.0638},{"t":2008750,"msd":0.0674},{"t":2011250,"msd":0.0619},{"t":2013750,"msd":0.0647},{"t":2016250,"msd":0.0661},{"t":2018750,"msd":0.0633},{"t":2021250,"msd":0.0610},{"t":2023750,"msd":0.0680},
{"t":2026250,"msd":0.0645},{"t":2028750,"msd":0.0618},{"t":2031250,"msd":0.0664},{"t":2033750,"msd":0.0632},{"t":2036250,"msd":0.0650},{"t":2038750,"msd":0.0627},{"t":2041250,"msd":0.0693},{"t":2043750,"msd":0.0641},{"t":2046250,"msd":0.0657},{"t":2048750,"msd":0.0614},
{"t":2051250,"msd":0.0622},{"t":2053750,"msd":0.0646},{"t":2056250,"msd":0.0638},{"t":2058750,"msd":0.0667},{"t":2061250,"msd":0.0609},{"t":2063750,"msd":0.0653},{"t":2066250,"msd":0.0631},{"t":2068750,"msd":0.0677},{"t":2071250,"msd":0.0644},{"t":2073750,"msd":0.0618},
{"t":2076250,"msd":0.0655},{"t":2078750,"msd":0.0633},{"t":2081250,"msd":0.0675},{"t":2083750,"msd":0.0620},{"t":2086250,"msd":0.0646},{"t":2088750,"msd":0.0661},{"t":2091250,"msd":0.0628},{"t":2093750,"msd":0.0640},{"t":2096250,"msd":0.0685},{"t":2098750,"msd":0.0637},
{"t":2101250,"msd":0.0643},{"t":2103750,"msd":0.0636},{"t":2106250,"msd":0.0648},{"t":2108750,"msd":0.0631},{"t":2111250,"msd":0.0653},{"t":2113750,"msd":0.0640},{"t":2116250,"msd":0.0629},{"t":2118750,"msd":0.0645},{"t":2121250,"msd":0.0637},{"t":2123750,"msd":0.0651},
{"t":2126250,"msd":0.0630},{"t":2128750,"msd":0.0646},{"t":2131250,"msd":0.0622},{"t":2133750,"msd":0.0661},{"t":2136250,"msd":0.0640},{"t":2138750,"msd":0.0679},{"t":2141250,"msd":0.0633},{"t":2143750,"msd":0.0650},{"t":2146250,"msd":0.0614},{"t":2148750,"msd":0.0658},
{"t":2151250,"msd":0.0641},{"t":2153750,"msd":0.0619},{"t":2156250,"msd":0.0657},{"t":2158750,"msd":0.0632},{"t":2161250,"msd":0.0684},{"t":2163750,"msd":0.0648},{"t":2166250,"msd":0.0626},{"t":2168750,"msd":0.0664},{"t":2171250,"msd":0.0603},{"t":2173750,"msd":0.0645},
{"t":2176250,"msd":0.0624},{"t":2178750,"msd":0.0655},{"t":2181250,"msd":0.0638},{"t":2183750,"msd":0.0611},{"t":2186250,"msd":0.0667},{"t":2188750,"msd":0.0643},{"t":2191250,"msd":0.0690},{"t":2193750,"msd":0.0629},{"t":2196250,"msd":0.0650},{"t":2198750,"msd":0.0616},
{"t":2201250,"msd":0.0647},{"t":2203750,"msd":0.0632},{"t":2206250,"msd":0.0675},{"t":2208750,"msd":0.0622},{"t":2211250,"msd":0.0643},{"t":2213750,"msd":0.0660},{"t":2216250,"msd":0.0608},{"t":2218750,"msd":0.0654},{"t":2221250,"msd":0.0630},{"t":2223750,"msd":0.0668},
{"t":2226250,"msd":0.0636},{"t":2228750,"msd":0.0610},{"t":2231250,"msd":0.0649},{"t":2233750,"msd":0.0663},{"t":2236250,"msd":0.0627},{"t":2238750,"msd":0.0680},{"t":2241250,"msd":0.0640},{"t":2243750,"msd":0.0621},{"t":2246250,"msd":0.0658},{"t":2248750,"msd":0.0644}
]},
"layer": [
{"mark": {"type": "square", "size": 18, "color": "black", "opacity": 1},
 "encoding": {
  "x": {"field": "t", "type": "quantitative", "scale": {"domain": [0, 2500000], "nice": false, "zero": false},
   "axis": {"orient": "bottom", "values": [0, 500000, 1000000, 1500000, 2000000, 2500000], "format": "d", "labelFontSize": 23, "labelPadding": 7, "labelFlush": false, "labelOverlap": false, "tickSize": 10, "tickWidth": 2, "domainWidth": 2, "title": "t(fs)", "titleFontSize": 28, "titleX": 346, "titleY": 78, "titleBaseline": "alphabetic", "titleAlign": "center"}},
  "y": {"field": "msd", "type": "quantitative", "scale": {"domain": [-0.01, 0.085], "nice": false, "zero": false},
   "axis": {"orient": "left", "values": [-0.01, 0, 0.01, 0.02, 0.03, 0.04, 0.05, 0.06, 0.07, 0.08], "labelExpr": "replace(format(datum.value, '.2f'), '.', '. ')", "labelFontSize": 23, "labelPadding": 8, "labelFlush": false, "labelOverlap": false, "tickSize": 10, "tickWidth": 2, "domainWidth": 2, "title": "MSD(A^2)", "titleFontSize": 28, "titleAngle": 270, "titleX": -89, "titleY": 281, "titleBaseline": "alphabetic", "titleAlign": "center"}}
 }},
{"mark": {"type": "square", "size": 18, "opacity": 0},
 "encoding": {
  "x": {"field": "t", "type": "quantitative", "scale": {"domain": [0, 2500000], "nice": false, "zero": false},
   "axis": {"orient": "bottom", "values": [250000, 750000, 1250000, 1750000, 2250000], "labels": false, "domain": false, "tickSize": 5, "tickWidth": 2, "title": null}},
  "y": {"field": "msd", "type": "quantitative", "scale": {"domain": [-0.01, 0.085], "nice": false, "zero": false},
   "axis": {"orient": "left", "values": [-0.005, 0.005, 0.015, 0.025, 0.035, 0.045, 0.055, 0.065, 0.075, 0.085], "labels": false, "domain": false, "tickSize": 5, "tickWidth": 2, "title": null}}
 }}
],
"resolve": {"axis": {"x": "independent", "y": "independent"}}
}
